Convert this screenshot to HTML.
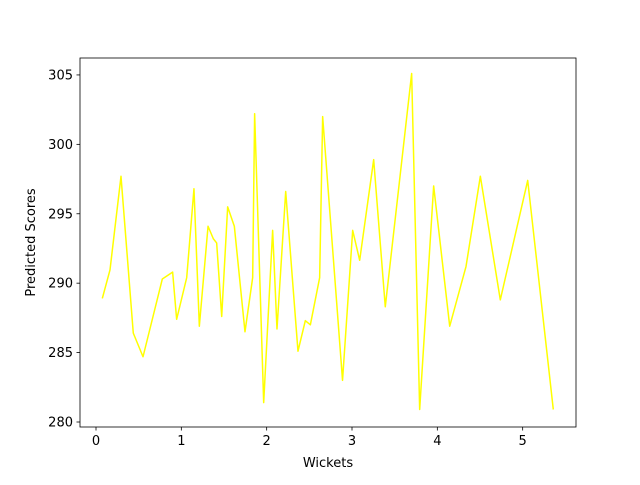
<!DOCTYPE html>
<html><head><meta charset="utf-8"><style>
html,body{margin:0;padding:0;background:#fff;}
svg text{font-family:"DejaVu Sans","Liberation Sans",sans-serif;font-size:13px;fill:#000;}
</style></head>
<body>
<svg id="chart" width="640" height="480" viewBox="0 0 640 480" xmlns="http://www.w3.org/2000/svg">
<rect x="0" y="0" width="640" height="480" fill="#fff"/>
<g id="plot"></g>
</svg>
<script>
const wickets = [0.074,0.164,0.293,0.437,0.551,0.777,0.898,0.945,1.063,1.148,1.211,1.313,1.375,1.414,1.473,1.543,1.621,1.746,1.836,1.859,1.965,2.07,2.121,2.223,2.367,2.453,2.512,2.621,2.656,2.889,3.008,3.09,3.254,3.39,3.699,3.793,3.957,4.145,4.336,4.504,4.738,5.059,5.359];
const scores = [288.9,290.95,297.7,286.4,284.7,290.3,290.8,287.4,290.4,296.8,286.9,294.1,293.2,292.9,287.6,295.5,294.1,286.5,290.4,302.2,281.4,293.8,286.7,296.6,285.1,287.3,287.0,290.4,302.0,283.0,293.8,291.65,298.9,288.3,305.1,280.9,297.0,286.9,291.2,297.7,288.8,297.4,280.9];
const xTicks = [0,1,2,3,4,5];
const yTicks = [280,285,290,295,300,305];

const L=80,R=576,T=58,B=427;
const xMin=-0.1875,xMax=5.625,yMin=279.64,yMax=306.22;
const sx=v=>L+(v-xMin)/(xMax-xMin)*(R-L);
const sy=v=>B-(v-yMin)/(yMax-yMin)*(B-T);
const NS="http://www.w3.org/2000/svg";
const g=document.getElementById('plot');
function mk(tag,attrs){const e=document.createElementNS(NS,tag);for(const k in attrs)e.setAttribute(k,attrs[k]);g.appendChild(e);return e;}

const pts=wickets.map((w,i)=>sx(w).toFixed(2)+','+sy(scores[i]).toFixed(2)).join(' ');
const line=mk('polyline',{points:pts,fill:'none',stroke:'#ffff00','stroke-width':1.5,'stroke-linejoin':'round'});



const frame=mk('rect',{x:L,y:T,width:R-L,height:B-T,fill:'none',stroke:'#000','stroke-width':0.8});



xTicks.forEach(t=>{
  const x=sx(t);
  const tk=mk('line',{x1:x,x2:x,y1:B,y2:B+3.5,stroke:'#000','stroke-width':0.8});
  
  
  const lb=mk('text',{x:x,y:B+18,'text-anchor':'middle'});
  lb.textContent=t;
  
  
});
yTicks.forEach(t=>{
  const y=sy(t);
  const tk=mk('line',{x1:L-3.5,x2:L,y1:y,y2:y,stroke:'#000','stroke-width':0.8});
  
  
  const lb=mk('text',{x:L-7,y:y+4.5,'text-anchor':'end'});
  lb.textContent=t;
  
  
});
const xt=mk('text',{x:(L+R)/2,y:467,'text-anchor':'middle'});
xt.textContent='Wickets';


const yt=mk('text',{x:0,y:0,'text-anchor':'middle',transform:'translate(35,'+((T+B)/2)+') rotate(-90)'});
yt.textContent='Predicted Scores';


</script>
</body></html>
